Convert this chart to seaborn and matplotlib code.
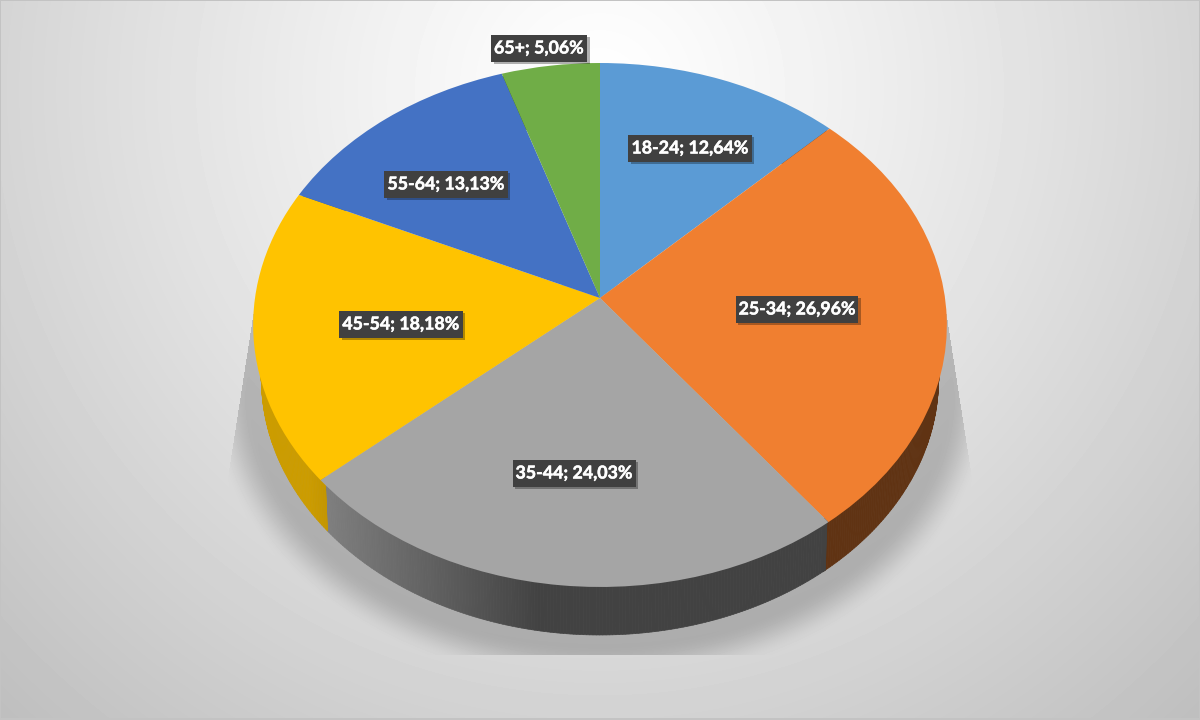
import numpy as np
import matplotlib
matplotlib.use("Agg")
import matplotlib.pyplot as plt
import matplotlib.patheffects as pe
from matplotlib.collections import PolyCollection
from matplotlib.patches import Rectangle
from matplotlib.transforms import Transform
import seaborn as sns

age_groups = ["18-24", "25-34", "35-44", "45-54", "55-64", "65+"]
shares = [12.64, 26.96, 24.03, 18.18, 13.13, 5.06]
slice_colors = ["#5B9BD5", "#F07F30", "#A5A5A5", "#FFC300", "#4472C4", "#70AD47"]

# layout of the tilted disc, in figure pixels
CX, TOP_CY, BOT_CY, RX, RY, K, BOT_SCALE = 600.0, 298.0, 353.0, 345.0, 259.2, 0.103, 0.978
label_centres = [(690, 148), (797, 309), (574, 473), (401, 324), (446, 184), (539, 48)]

sns.set_theme(style="white")
plt.rcParams["font.family"] = ["Lato", "DejaVu Sans"]


class Tilt(Transform):
    """Perspective view of the unit pie."""
    input_dims = output_dims = 2
    is_separable = False
    has_inverse = False

    def __init__(self, cy, scale=1.0):
        super().__init__()
        self.cy, self.scale = cy, scale

    def transform_non_affine(self, xy):
        xy = np.asarray(xy, dtype=float)
        d = 1 + K * xy[:, 1]
        return np.column_stack([CX + self.scale * RX * xy[:, 0] / d,
                                self.cy - self.scale * RY * xy[:, 1] / d])


def backdrop():
    v, u = np.mgrid[0:720, 0:1200] + 0.5
    dist = np.hypot(u - 600, (v - 90))
    img = 255 - 65 * (dist / 870) ** 1.15
    # cast shadow around the lower rim
    t = (BOT_CY - v) / BOT_SCALE
    den = RY - K * t
    Y = t / den
    X = (u - CX) / BOT_SCALE / RX * (1 + K * Y)
    r = np.hypot(X, Y)
    d = (r - 1) * 290
    s = np.clip((d - 10) / 36, 0, 1)
    fade = 1 - s * s * (3 - 2 * s)
    reach = 342 + np.clip(v - 285, 0, None) * 28 / 180
    mask = (v > 285) & (v < 655) & (np.abs(u - CX) < reach)
    img = np.where(mask, img - 44 * fade, img)
    img[:1, :] = img[-2:, :] = 196
    img[:, :1] = img[:, -1:] = 196
    return img


fig = plt.figure(figsize=(12, 7.2), dpi=100)
ax = fig.add_axes([0, 0, 1, 1])

wedges, _ = ax.pie(shares, colors=slice_colors, startangle=90, counterclock=False,
                   radius=1.0, center=(0, 0), wedgeprops={"linewidth": 0, "zorder": 3})
top = Tilt(TOP_CY)
bottom = Tilt(BOT_CY, BOT_SCALE)
for w in wedges:
    w.set_transform(top + ax.transData)

# rim: short quads between the upper and the lower outline of each slice
for w, col in zip(wedges, slice_colors):
    ang = np.radians(np.arange(w.theta1, w.theta2 + 0.5, 0.5))
    ang = np.append(ang, np.radians(w.theta2))
    unit = np.column_stack([np.cos(ang), np.sin(ang)])
    upper, lower = top.transform(unit * 0.985), bottom.transform(unit * 0.998)
    polys, cols = [], []
    base = np.array(matplotlib.colors.to_rgb(col))
    for i in range(len(ang) - 1):
        polys.append([upper[i], upper[i + 1], lower[i + 1], lower[i]])
        sx = 0.5 * (upper[i, 0] + upper[i + 1, 0])
        f = np.clip(0.4 + 0.37 * (540 - sx) / 215, 0.4, 0.8)
        cols.append(base * f)
    ax.add_collection(PolyCollection(polys, facecolors=cols, edgecolors=cols,
                                     linewidths=0.5, zorder=2))

ax.imshow(backdrop(), cmap="gray", vmin=0, vmax=255, extent=(0, 1200, 720, 0),
          interpolation="bilinear", zorder=0, aspect="auto")
ax.set_xlim(0, 1200)
ax.set_ylim(720, 0)
ax.set_aspect("auto")
ax.set_axis_off()

renderer = fig.canvas.get_renderer()
for group, share, (lx, ly) in zip(age_groups, shares, label_centres):
    text = f"{group}; {share:.2f}%".replace(".", ",")
    t = ax.text(lx, ly, text, ha="center", va="center", color="white", fontsize=12.8,
                fontweight="bold", zorder=6,
                path_effects=[pe.withStroke(linewidth=0.35, foreground="white")])
    width = t.get_window_extent(renderer).width
    box = Rectangle((lx - width / 2 - 3, ly - 13.5), width + 6, 27, fc="#404040", ec="none",
                    zorder=5)
    box.set_path_effects([pe.withSimplePatchShadow(offset=(2, -2), shadow_rgbFace="#000000",
                                                   alpha=0.3)])
    ax.add_patch(box)

fig.savefig("out.png", dpi=100)
